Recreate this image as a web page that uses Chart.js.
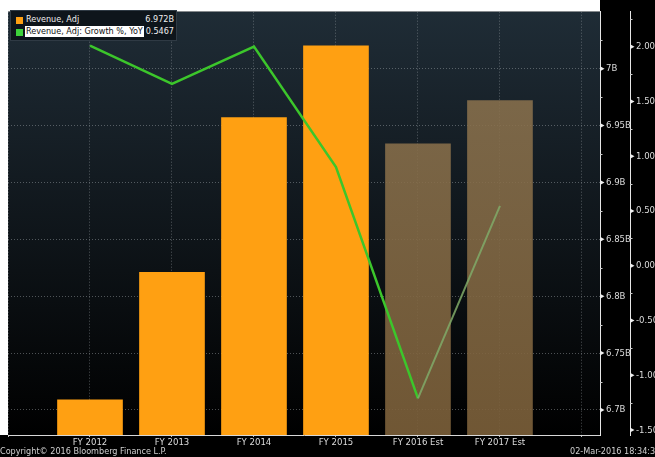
<!DOCTYPE html>
<html>
<head>
<meta charset="utf-8">
<script src="https://cdn.jsdelivr.net/npm/chart.js@4"></script>
<style>
  body { margin: 0; background: #fff; }
  #wrap { position: relative; width: 655px; height: 457px; overflow: hidden; }
  .txt { position: absolute; font-family: "DejaVu Sans Condensed", "DejaVu Sans", sans-serif; white-space: nowrap; }
  #legend { left: 10px; top: 10px; width: 167px; height: 31px; background: #0e151b; border: 1px solid #2f3a44; box-sizing: border-box; font-size: 9px; color: #eee; }
  #legend .sw { position: absolute; left: 5px; width: 7px; height: 7px; }
  #legend .lab { position: absolute; left: 15px; line-height: 11px; }
  #legend .val { position: absolute; right: 2px; line-height: 11px; }
  #foot-l, #foot-r { top: 446px; font-size: 9px; color: #cfcfcf; line-height: 11px; }
</style>
</head>
<body>
<div id="wrap">
  <canvas id="chart" width="655" height="457"></canvas>
  <div id="legend" class="txt">
    <div class="sw" style="top:6px;background:#ffa012"></div>
    <div class="lab" style="top:3px">Revenue, Adj</div>
    <div class="val" style="top:3px">6.972B</div>
    <div class="sw" style="top:18px;background:#3dd13a"></div>
    <div class="lab" style="top:15px;background:#fff;color:#111;padding:0 1px;left:14px">Revenue, Adj: Growth %, YoY</div>
    <div class="val" style="top:15px">0.5467</div>
  </div>
  <div id="foot-l" class="txt" style="left:0">Copyright© 2016 Bloomberg Finance L.P.</div>
  <div id="foot-r" class="txt" style="left:570px">02-Mar-2016 18:34:37</div>
</div>
<script>
// values
const categories = ["FY 2012", "FY 2013", "FY 2014", "FY 2015", "FY 2016 Est", "FY 2017 Est"];
const revenue = [6.709, 6.821, 6.957, 7.020, 6.934, 6.972];   // billions
const growth = [2.01, 1.66, 2.00, 0.90, -1.21, 0.547];        // % YoY
const estimate = [false, false, false, false, true, true];
const revenueTicks = [6.7, 6.75, 6.8, 6.85, 6.9, 6.95, 7.0];
const growthTicks = [-1.5, -1.0, -0.5, 0.0, 0.5, 1.0, 1.5, 2.0];

const tickFont = { family: "DejaVu Sans Condensed", size: 9.5 };
const gridColor = "rgba(165,170,175,0.45)";

const background = {
    id: "background",
    beforeDraw(chart) {
        const { ctx, chartArea: a, width, height } = chart;
        ctx.save();
        ctx.fillStyle = "#000";
        ctx.fillRect(0, 0, width, height);
        ctx.fillStyle = "#fff";
        ctx.fillRect(0, 0, a.right, a.top);
        ctx.fillRect(0, 0, a.left, a.bottom);
        const g = ctx.createLinearGradient(0, a.top, 0, a.bottom);
        g.addColorStop(0, "#1f2c36");
        g.addColorStop(1, "#000000");
        ctx.fillStyle = g;
        ctx.fillRect(a.left, a.top, a.right - a.left, a.bottom - a.top);
        ctx.restore();
    }
};

// little arrow heads at the labelled ticks and short minor ticks between them
const axisMarks = {
    id: "axisMarks",
    afterDraw(chart) {
        const { ctx } = chart;
        ctx.save();
        ctx.fillStyle = "#eee";
        ctx.strokeStyle = "#ccc";
        ctx.lineWidth = 1;
        [["y", revenueTicks], ["y2", growthTicks]].forEach(([id, list]) => {
            const s = chart.scales[id];
            const x0 = s.left;
            list.forEach((v, i) => {
                const py = s.getPixelForValue(v);
                ctx.beginPath();
                ctx.moveTo(x0, py - 2.5);
                ctx.lineTo(x0 + 4.5, py);
                ctx.lineTo(x0, py + 2.5);
                ctx.closePath();
                ctx.fill();
                const step = i < list.length - 1 ? list[i + 1] - v : v - list[i - 1];
                const mv = v + step / 2;
                if (mv <= s.max) {
                    const my = Math.round(s.getPixelForValue(mv)) + 0.5;
                    ctx.beginPath();
                    ctx.moveTo(x0, my);
                    ctx.lineTo(x0 + 2.5, my);
                    ctx.stroke();
                }
            });
        });
        ctx.restore();
    }
};

const estFill = (context) => {
    const i = context.dataIndex;
    if (!estimate[i]) return "#ffa012";
    const { ctx, chartArea } = context.chart;
    if (!chartArea) return "rgba(135,110,75,0.88)";
    const g = ctx.createLinearGradient(0, chartArea.top, 0, chartArea.bottom);
    g.addColorStop(0, "rgba(142,118,82,0.86)");
    g.addColorStop(1, "rgba(124,96,58,0.9)");
    return g;
};

new Chart(document.getElementById("chart"), {
    data: {
        datasets: [
            {
                type: "line",
                label: "Revenue, Adj: Growth %, YoY",
                data: categories.map((c, i) => ({ x: i, y: growth[i] })),
                yAxisID: "y2",
                borderColor: "#3cc62b",
                borderWidth: 2.5,
                pointRadius: 0,
                tension: 0,
                order: 0,
                segment: {
                    borderColor: ctx => estimate[ctx.p0DataIndex] ? "rgba(128,170,104,0.85)" : undefined,
                    borderWidth: ctx => estimate[ctx.p0DataIndex] ? 2 : undefined
                }
            },
            {
                type: "bar",
                label: "Revenue, Adj",
                data: categories.map((c, i) => ({ x: i, y: revenue[i] })),
                yAxisID: "y",
                backgroundColor: estFill,
                barThickness: 65,
                order: 1
            }
        ]
    },
    options: {
        responsive: false,
        animation: false,
        layout: { padding: { top: 8, left: 8 } },
        plugins: {
            legend: { display: false },
            tooltip: { enabled: false }
        },
        scales: {
            x: {
                type: "linear",
                position: "bottom",
                offset: false,
                min: -1,
                max: 6.22,
                afterBuildTicks: s => {
                    s.ticks = [-1, ...categories.map((c, i) => i), categories.length].map(v => ({ value: v }));
                },
                afterFit: s => { s.height = 22; },
                ticks: {
                    callback: v => categories[v] ?? "",
                    color: "#dcdcdc",
                    font: tickFont,
                    padding: 0,
                    maxRotation: 0,
                    autoSkip: false
                },
                grid: { offset: false, color: gridColor, tickLength: 2, tickColor: "#bbb" },
                border: { color: "#d8d8d8", dash: [1, 2] }
            },
            y: {
                type: "linear",
                position: "right",
                min: 6.678,
                max: 7.0501,
                afterBuildTicks: s => { s.ticks = revenueTicks.map(v => ({ value: v })); },
                afterFit: s => { s.width = 30; },
                ticks: {
                    callback: v => +v.toFixed(2) + "B",
                    color: "#dcdcdc",
                    font: tickFont,
                    padding: 6
                },
                grid: { color: gridColor, drawTicks: false },
                border: { color: "#e6e6e6", dash: [1, 2] }
            },
            y2: {
                type: "linear",
                position: "right",
                min: -1.545,
                max: 2.319,
                afterBuildTicks: s => { s.ticks = growthTicks.map(v => ({ value: v })); },
                afterFit: s => { s.width = 25; },
                ticks: {
                    callback: v => v.toFixed(2),
                    color: "#dcdcdc",
                    font: tickFont,
                    padding: 6
                },
                grid: { drawOnChartArea: false, drawTicks: false },
                border: { color: "#e6e6e6" }
            }
        }
    },
    plugins: [background, axisMarks]
});
</script>
</body>
</html>
